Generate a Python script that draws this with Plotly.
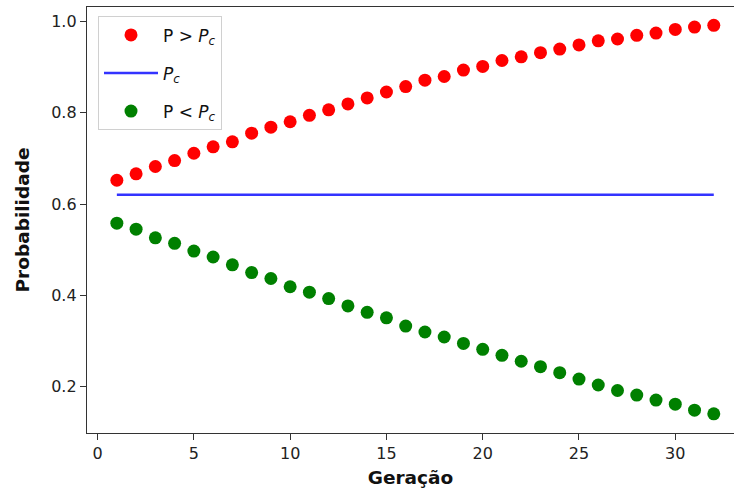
import plotly.graph_objects as go

geracao = list(range(1, 33))
p_maior = [0.652, 0.666, 0.682, 0.695, 0.711, 0.725, 0.736, 0.755, 0.768, 0.780,
           0.794, 0.806, 0.819, 0.832, 0.845, 0.857, 0.871, 0.879, 0.893, 0.901,
           0.914, 0.922, 0.931, 0.939, 0.948, 0.957, 0.961, 0.969, 0.974, 0.982,
           0.987, 0.991]
p_c = [0.62] * 32
p_menor = [0.558, 0.545, 0.526, 0.514, 0.497, 0.484, 0.467, 0.450, 0.437, 0.419,
           0.407, 0.393, 0.377, 0.363, 0.351, 0.333, 0.320, 0.309, 0.295, 0.282,
           0.269, 0.256, 0.244, 0.231, 0.217, 0.204, 0.192, 0.182, 0.171, 0.162,
           0.149, 0.141]
x_ticks = [0, 5, 10, 15, 20, 25, 30]
y_ticks = [0.2, 0.4, 0.6, 0.8, 1.0]

font = "DejaVu Sans"
fig = go.Figure()
fig.add_trace(go.Scatter(x=geracao, y=p_maior, mode="markers", legendgroup="a",
                         marker=dict(color="#ff0000", size=13),
                         name="P > <i>P</i><sub><i>c</i></sub>"))
fig.add_trace(go.Scatter(x=geracao, y=p_c, mode="lines", legendgroup="b",
                         line=dict(color="#3333ff", width=2.5),
                         name="<i>P</i><sub><i>c</i></sub>"))
fig.add_trace(go.Scatter(x=geracao, y=p_menor, mode="markers", legendgroup="c",
                         marker=dict(color="#008000", size=13),
                         name="P < <i>P</i><sub><i>c</i></sub>"))

fig.update_layout(
    width=734, height=496,
    margin=dict(l=87, r=0, t=7, b=63),
    paper_bgcolor="white", plot_bgcolor="white",
    font=dict(family=font, size=16, color="#222"),
    showlegend=True,
    legend=dict(x=0.017, y=0.978, xanchor="left", yanchor="top",
                bgcolor="rgba(255,255,255,0.8)", bordercolor="#d0d0d0", borderwidth=1,
                font=dict(size=17, color="#111"), itemwidth=54,
                tracegroupgap=13),
)
fig.update_xaxes(range=[-0.55, 33.05], tickvals=x_ticks, showgrid=False, zeroline=False,
                 showline=True, linecolor="#333", linewidth=1.3, mirror=True,
                 ticks="outside", ticklen=6, tickcolor="#333",
                 title=dict(text="<b>Geração</b>", font=dict(size=18.5, color="#111"), standoff=8))
fig.update_yaxes(range=[0.099, 1.031], tickvals=y_ticks, tickformat=".1f",
                 showgrid=False, zeroline=False,
                 showline=True, linecolor="#333", linewidth=1.3, mirror=False,
                 ticks="outside", ticklen=6, tickcolor="#333",
                 title=dict(text="<b>Probabilidade</b>", font=dict(size=18.5, color="#111"), standoff=16))

fig.write_html("out.html")
